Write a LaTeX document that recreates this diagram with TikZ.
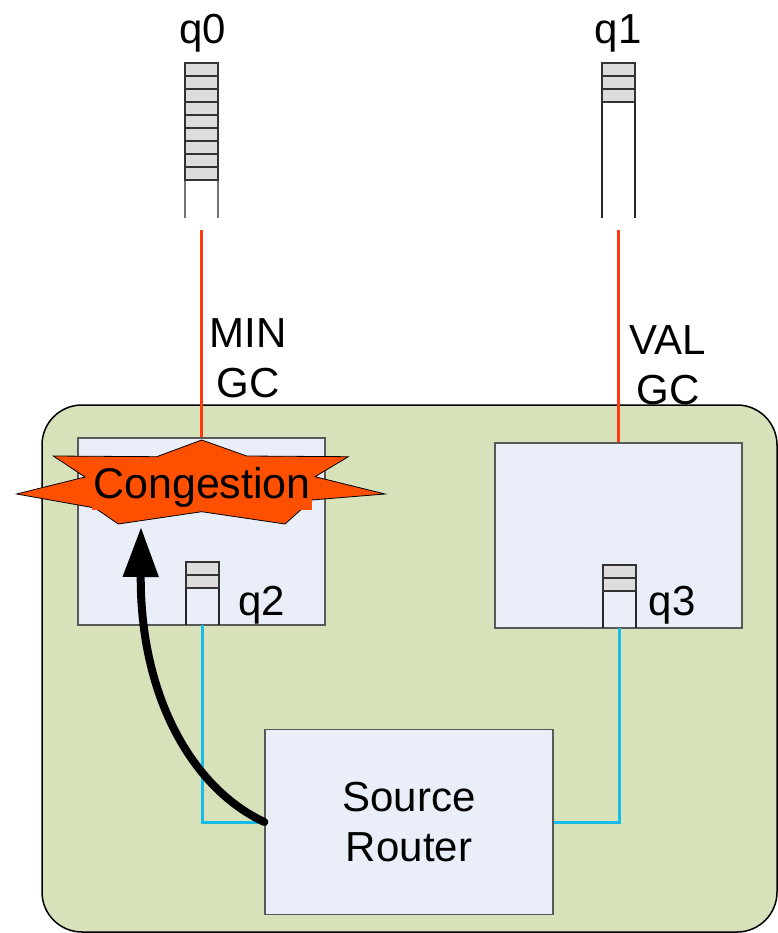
\documentclass[tikz,border=0pt]{standalone}
\usepackage{fontspec}
\setmainfont{Liberation Sans}
\usetikzlibrary{arrows.meta,calc,positioning}
\definecolor{board}{HTML}{D7E1BA}
\definecolor{chip}{HTML}{E9EEF8}
\definecolor{gclink}{HTML}{FF3A10}
\definecolor{wire}{HTML}{18BCE8}
\definecolor{alarm}{HTML}{FF5000}
\definecolor{slot}{HTML}{DDDDDD}
\tikzset{
  lbl/.style={font=\fontsize{42}{50}\selectfont, align=center, inner sep=0pt},
  chipbox/.style={draw=black!65, line width=1.2pt, fill=chip, inner sep=0pt},
  gcline/.style={draw=gclink, line width=2.5pt},
  wireline/.style={draw=wire, line width=3pt},
  cell/.style={fill=slot, draw=black!80, line width=1.5pt},
  rail/.style={line width=1.5pt},
  burst/.style={fill=alarm, draw=black, line width=0.8pt, line join=miter},
  reroute/.style={line width=8pt, line cap=round, -{Triangle[length=50pt,width=34pt]}}
}
\newcommand{\queuestack}[6]{% name, left x, top y, cells, bottom y, rail colour
  \draw[rail, #6] (#2,#3) -- (#2,#5) (#2+33,#3) -- (#2+33,#5);
  \foreach \k in {1,...,#4} {
    \draw[cell] (#2,{#3+13*(\k-1)}) rectangle (#2+33,{#3+13*\k});
  }
  \coordinate (#1) at (#2+16.5,#5);
}

\begin{document}
\begin{tikzpicture}[x=1pt,y=-1pt]
\path[use as bounding box] (0,0) rectangle (777,933);
\fill[white] (0,0) rectangle (777,933);

% switch group
\draw[fill=board, line width=1.5pt, rounded corners=40pt] (42,405) rectangle (777,932);
\node[chipbox, minimum width=247pt, minimum height=187pt] (minbox) at (201.5,531.5) {};
\node[chipbox, minimum width=247pt, minimum height=185pt] (valbox) at (618.5,535.5) {};
\node[chipbox, lbl, minimum width=288pt, minimum height=185pt] (router) at (409,822) {Source\\Router};

% queues
\queuestack{q0foot}{185}{63}{9}{218}{black!55}
\queuestack{q1foot}{602}{63}{3}{218}{black!85}
\queuestack{q2foot}{186}{562}{2}{625}{black!85}
\queuestack{q3foot}{603}{565}{2}{628}{black!85}
\node[lbl, anchor=base] (q0lbl) at (203,44) {q0};
\node[lbl, anchor=base] (q1lbl) at (618,44) {q1};
\node[lbl, anchor=base] (q2lbl) at (262,615) {q2};
\node[lbl, anchor=base] (q3lbl) at (672,615) {q3};

% global links
\coordinate (q0top) at ($(q0foot)+(0,12)$);
\coordinate (q1top) at ($(q1foot)+(0,12)$);
\draw[gcline] (q0top) -- (q0top |- minbox.north);
\draw[gcline] (q1top) -- (q1top |- valbox.north);
\node[lbl, anchor=base] (minlbl) at (248,397) {MIN\\GC};
\node[lbl, anchor=base] (vallbl) at (668,404) {VAL\\GC};

% local links
\draw[wireline] (q2foot) |- (router.west);
\draw[wireline] (q3foot) |- (router.east);

\draw[burst] (201.7,440) -- (246.7,456) -- (348.3,456.7) -- (315,476.7) -- (385,494)
  -- (311.7,500) -- (285,524) -- (201.7,511.7) -- (118.3,524) -- (95,508)
  -- (16.7,494) -- (85,477) -- (53.3,456) -- (156.7,456.7) -- cycle;
\node[lbl, font=\fontsize{43}{50}\selectfont, fill=alarm, inner xsep=1pt, minimum height=46pt] (congestion) at (202,487) {Congestion};
\coordinate (hit) at (141,527);

\draw[reroute] (router.west) .. controls (195,790) and (140,700) .. (hit);
\end{tikzpicture}
\end{document}
